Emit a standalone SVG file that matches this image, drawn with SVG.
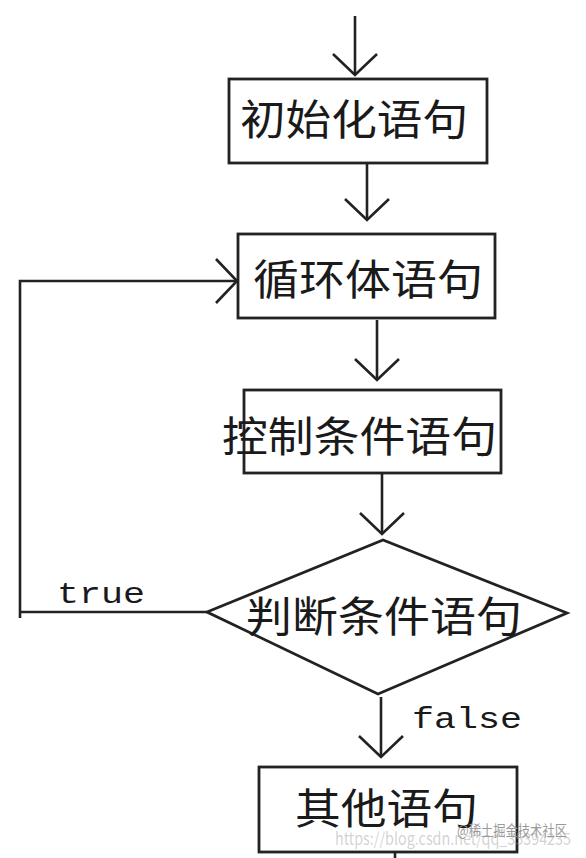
<svg xmlns="http://www.w3.org/2000/svg" width="586" height="858" viewBox="0 0 586 858">
<style>
.node{fill:#fff;stroke:#222;stroke-width:2.8}
.lbl{font-family:"Noto Sans CJK SC","Noto Sans CJK JP",sans-serif;font-size:42px;fill:#1a1a1a;text-anchor:start}
.edge{fill:none;stroke:#222;stroke-width:2.6}
.mono{font-family:"Liberation Mono","DejaVu Sans Mono",monospace;font-size:30px;fill:#1a1a1a}
.wm{font-family:"Noto Sans CJK SC",sans-serif;fill:#9a9a9a}
</style>
<defs>
<marker id="arr" markerUnits="userSpaceOnUse" markerWidth="40" markerHeight="60" viewBox="-30 -30 40 60" refX="0" refY="0" orient="auto" overflow="visible">
<path d="M-21,-22 L0,0 L-21,22" fill="none" stroke="#222" stroke-width="2.6"/>
</marker>
</defs>
<rect width="586" height="858" fill="#fff"/>
<g id="connectors">
<line class="edge" x1="355" y1="16" x2="355" y2="75" marker-end="url(#arr)"/>
<line class="edge" x1="367" y1="163" x2="367" y2="220" marker-end="url(#arr)"/>
<line class="edge" x1="377" y1="320" x2="377" y2="380" marker-end="url(#arr)"/>
<line class="edge" x1="382" y1="473" x2="382" y2="534" marker-end="url(#arr)"/>
<line class="edge" x1="381" y1="697" x2="381" y2="757" marker-end="url(#arr)"/>
<path class="edge" d="M207,612 H20 M20,618 V281 H237" marker-end="url(#arr)"/>
<line class="edge" x1="395" y1="852" x2="395" y2="858"/>
<text class="mono" x="57" y="603" textLength="88" lengthAdjust="spacingAndGlyphs">true</text>
<text class="mono" x="412" y="728" textLength="110" lengthAdjust="spacingAndGlyphs">false</text>
</g>
<g id="init">
<rect class="node" x="229" y="79" width="258" height="84"/>
<text class="lbl" x="240" y="135" textLength="228" lengthAdjust="spacingAndGlyphs">初始化语句</text>
</g>
<g id="body">
<rect class="node" x="238" y="234" width="257" height="84"/>
<text class="lbl" x="253" y="295" textLength="230" lengthAdjust="spacingAndGlyphs">循环体语句</text>
</g>
<g id="control">
<rect class="node" x="244" y="390" width="257" height="83"/>
<text class="lbl" x="222" y="452" textLength="275" lengthAdjust="spacingAndGlyphs">控制条件语句</text>
</g>
<g id="decision">
<polygon class="node" points="207,612 383,540 567,613 378,694"/>
<text class="lbl" x="246" y="632" textLength="276" lengthAdjust="spacingAndGlyphs">判断条件语句</text>
</g>
<g id="other">
<rect class="node" x="259" y="767" width="258" height="85"/>
<text class="lbl" x="295" y="824" font-size="44" textLength="183" lengthAdjust="spacingAndGlyphs">其他语句</text>
</g>
<g id="watermark">
<text class="wm" x="335" y="845" font-size="17" fill-opacity="0.45" textLength="236" lengthAdjust="spacingAndGlyphs">https://blog.csdn.net/qq_35394235</text>
<text class="wm" x="457" y="836" font-size="15" textLength="110" lengthAdjust="spacingAndGlyphs">@稀土掘金技术社区</text>
</g>
</svg>
